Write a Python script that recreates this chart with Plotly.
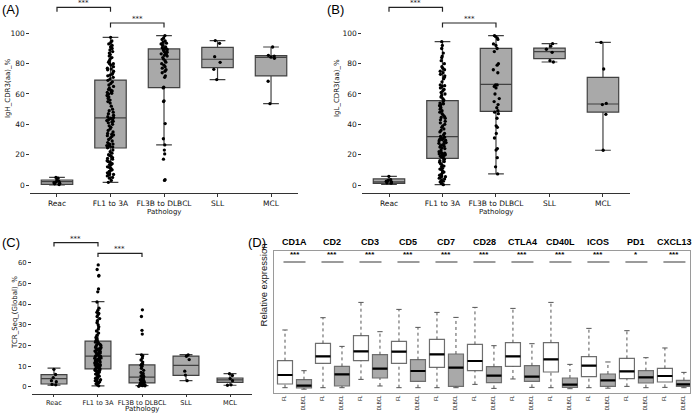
import plotly.graph_objects as go

##############################################################################
## data -- values

groups = ["Reac", "FL1 to 3A", "FL3B to DLBCL", "SLL", "MCL"]

## (A) IgH_CDR3(aa)_%  box stats
igh_q1 = [0.4, 24.4, 64.2, 77.4, 71.9]
igh_med = [2.2, 44.2, 82.9, 82.9, 84.2]
igh_q3 = [3.3, 69.2, 89.7, 90.8, 85.3]
igh_lo = [0.0, 1.8, 26.4, 69.5, 53.6]
igh_hi = [5.0, 97.4, 98.5, 95.2, 91.0]
## (A) individual samples
igh_reac = [0.3, 0.8, 1.2, 1.5, 2.0, 2.5, 3.5, 4.5, 5.0]
igh_fl = [1.8, 3, 4.5, 5, 6, 6.5, 7, 7.5, 8, 9, 9.5, 10, 11, 11.5, 12, 13, 13.5, 14, 15, 15.5,
          16, 17, 17.5, 18, 19, 19.5, 20, 21, 22, 23,
          24.5, 25, 25.5, 26, 26, 26.5, 27, 27, 28, 29, 30, 31, 32, 32.5, 33, 33.5, 34, 35, 36, 37,
          38, 39, 40, 41, 41.5, 42, 42.5, 43, 43, 43.5, 44,
          44.5, 45, 46, 47, 48, 49, 50, 52, 54, 55, 56, 57, 58, 58.5, 59, 60, 60.5, 61, 61.5, 62,
          62.5, 63, 64, 65, 66, 67, 68, 69,
          70, 71, 72, 72.5, 73, 74, 75, 76, 76.5, 77, 78, 79, 80, 80, 81, 82, 83, 84, 85, 86,
          87, 88, 89, 90, 91, 92, 93, 94, 95, 97.4]
igh_fl3b = [98.5, 97, 96, 95, 94, 93.5, 93, 92, 91, 90.5, 90, 89.5, 89, 88.5, 88, 87.5, 87, 86.5,
            86, 85.5, 85, 84, 83, 82, 81, 80, 79, 78, 77, 76, 75, 74, 72, 71, 64.5, 64, 55.5, 55,
            40.5, 30.5, 26.4, 23, 20.5, 17, 3.5, 3]
igh_sll = [95.2, 93.4, 84.6, 80.9, 76.3, 69.5]
igh_mcl = [91.0, 85.5, 85.0, 84.3, 83.5, 68.4, 53.6]

## (B) IgL_CDR3(aa)_%  box stats
igl_q1 = [1.1, 17.6, 48.6, 83.3, 48.1]
igl_med = [2.0, 31.9, 66.4, 87.9, 53.4]
igl_q3 = [4.0, 55.6, 90.1, 90.3, 71.0]
igl_lo = [0.4, 0.2, 7.3, 81.1, 22.9]
igl_hi = [5.7, 94.5, 98.5, 93.2, 94.0]
## (B) individual samples
igl_reac = [5.7, 3.5, 3.0, 2.5, 2.0, 1.5, 1.2]
igl_fl = [0.2, 1, 2, 2.5, 3, 4, 4.5, 5, 5.5, 6, 6.5, 7, 8, 8.5, 9, 10, 10.5, 11, 12, 12.5, 13, 14,
          15, 15.5, 16, 17,
          18, 18.5, 19, 19.5, 20, 20, 20.5, 21, 21, 21.5, 22, 23, 24, 24.5, 25, 25.5, 26, 26.5, 27,
          27.5, 28, 28.5, 29, 29.5, 30, 30, 30.5, 31, 31.5,
          32, 33, 34, 35, 36, 37, 38, 39, 40, 41, 42, 43, 44, 44.5, 45, 46, 47, 48, 49, 50, 51, 52,
          52.5, 53, 53.5, 54, 55,
          56, 57, 58, 59, 60, 61, 62, 63, 64, 65, 65.5, 66, 68, 70, 71, 72, 73, 74, 75, 76, 77, 78,
          80, 82, 84, 85, 87, 90, 92, 94.5]
igl_fl3b = [98.5, 98, 97, 96, 93, 92, 90, 88, 80, 79, 76, 74, 66, 66, 65, 64, 60, 57, 55, 53, 51,
            49, 48, 47, 44, 39, 38, 34, 31, 24, 23, 18, 12, 7.3]
igl_sll = [93.2, 91.5, 89.5, 87.5, 82.0, 81.1]
igl_mcl = [94.0, 76.5, 53.8, 53.0, 46.6, 22.9]

## (C) TCR_Seq_(Global)_%  box stats
tcr_q1 = [1.4, 8.7, 1.9, 5.6, 2.2]
tcr_med = [4.0, 14.9, 4.7, 10.4, 3.4]
tcr_q3 = [5.9, 22.1, 10.6, 14.9, 4.3]
tcr_lo = [0.8, 0.5, 0.6, 3.0, 0.8]
tcr_hi = [9.1, 41.2, 15.7, 15.6, 6.4]
## (C) individual samples
tcr_reac = [8.5, 6.0, 4.5, 3.0, 2.5, 1.2, 1.0]
tcr_fl = [0.5, 1, 1.5, 2, 2.2, 2.5, 3, 3.2, 3.5, 4, 4.2, 4.5, 5, 5.2, 5.5, 6, 6.2, 6.5, 7, 7.2,
          7.5, 7.8, 8, 8.2, 8.5, 8.8,
          9, 9.3, 9.6, 9.8, 10, 10.3, 10.6, 10.8, 11, 11.3, 11.6, 11.8, 12, 12.3, 12.6, 12.8, 13,
          13.3, 13.6, 13.8, 14, 14.2, 14.5, 14.8, 15,
          15.3, 15.6, 16, 16.3, 16.6, 16.8, 17, 17.3, 17.6, 17.8, 18, 18.3, 18.6, 19, 19.2, 19.5,
          20, 20.2, 20.5, 21, 21.3, 21.6, 22,
          22.5, 23, 23.5, 24, 25, 26, 27, 28, 29, 30, 31, 32, 33, 34, 35, 35.5, 36, 37, 38, 41,
          45.9, 47.3, 53.5, 53.8, 56.7, 58.9]
tcr_fl3b = [0.3, 0.5, 0.6, 0.8, 1, 1.1, 1.3, 1.5, 1.6, 1.8, 2, 2.1, 2.3, 2.5, 2.7, 3, 3.2, 3.5,
            3.8, 4, 4.3, 4.6, 5, 5.3, 5.6, 6, 6.5, 7, 8, 9, 10, 10.5, 11, 11, 12, 13, 14, 15,
            15.5, 25.5, 27.3, 34, 37.2]
tcr_sll = [15.5, 14.8, 13.2, 7.6, 5.7, 3.0]
tcr_mcl = [6.4, 5.5, 4.0, 3.0, 1.0, 0.8]

## (D) relative expression FL vs DLBCL (arbitrary units)
genes = ["CD1A", "CD2", "CD3", "CD5", "CD7", "CD28", "CTLA4", "CD40L", "ICOS", "PD1", "CXCL13"]
signif = ["***", "***", "***", "***", "***", "***", "***", "***", "***", "*", "***"]
fl_lo = [5, 5, 13.3, 5, 5, 8.3, 13.7, 5, 5, 6.3, 5.3]
fl_q1 = [8.7, 29.3, 32, 29.3, 25.3, 22, 26.3, 20.7, 16, 14, 10.7]
fl_med = [17.7, 36.3, 41.3, 41, 38.3, 31.7, 36.3, 33.3, 27, 21.3, 16.7]
fl_q3 = [32, 49.3, 57, 51.3, 53.3, 48.3, 50, 50, 36, 34.3, 24.3]
fl_hi = [62.7, 75, 90.3, 83.3, 80.3, 85.3, 84.3, 90.3, 64.3, 62, 44.7]
dl_lo = [3.5, 5, 6.7, 5, 5, 4.3, 5.3, 4, 4.5, 5, 5]
dl_q1 = [4.7, 6.7, 14.7, 11.3, 6.3, 10, 11.3, 5.3, 6.3, 9.7, 6.3]
dl_med = [7, 18.3, 24, 21.7, 25, 17, 16, 8, 12.3, 15.3, 8.3]
dl_q3 = [13, 26.3, 38, 33, 38.7, 26, 27, 14.7, 18.7, 22, 12.3]
dl_hi = [22, 46.3, 61, 65.3, 75.3, 47, 49, 28.3, 30.7, 35, 20.3]

##############################################################################
## styling

box_grey = "#a9a9a9"
edge = "#414141"
txt = "#111111"
tick_font = dict(family="DejaVu Sans", size=7.5, color=txt)
fig = go.Figure()


def add_panel(xa, ya, q1, med, q3, lo, hi, pts):
    ## boxes from the summary stats
    fig.add_trace(go.Box(x=groups, q1=q1, median=med, q3=q3, lowerfence=lo, upperfence=hi,
                         xaxis=xa, yaxis=ya, fillcolor=box_grey,
                         line=dict(color=edge, width=1.2), whiskerwidth=0.5,
                         boxpoints=False, hoverinfo="skip"))
    ## dots on top -- plotly jitter is density scaled, close to a swarm
    xs, ys = [], []
    for g, vals in zip(groups, pts):
        xs += [g] * len(vals)
        ys += vals
    fig.add_trace(go.Box(x=xs, y=ys, xaxis=xa, yaxis=ya, boxpoints="all", jitter=0.26,
                         pointpos=0, fillcolor="rgba(0,0,0,0)",
                         line=dict(width=0, color="rgba(0,0,0,0)"),
                         marker=dict(color="black", size=3.3)))


add_panel("x", "y", igh_q1, igh_med, igh_q3, igh_lo, igh_hi,
          [igh_reac, igh_fl, igh_fl3b, igh_sll, igh_mcl])
add_panel("x2", "y2", igl_q1, igl_med, igl_q3, igl_lo, igl_hi,
          [igl_reac, igl_fl, igl_fl3b, igl_sll, igl_mcl])
add_panel("x3", "y3", tcr_q1, tcr_med, tcr_q3, tcr_lo, tcr_hi,
          [tcr_reac, tcr_fl, tcr_fl3b, tcr_sll, tcr_mcl])

## panel D -- FL boxes at even slots, DLBCL at odd slots
fl_pos = [2 * i for i in range(len(genes))]
dl_pos = [2 * i + 1 for i in range(len(genes))]
bw = 0.79
for pos, lo, q1, med, q3, hi, fill in [(fl_pos, fl_lo, fl_q1, fl_med, fl_q3, fl_hi, "white"),
                                       (dl_pos, dl_lo, dl_q1, dl_med, dl_q3, dl_hi, box_grey)]:
    fig.add_trace(go.Box(x=pos, q1=q1, median=med, q3=q3, lowerfence=q1, upperfence=q3,
                         width=bw, xaxis="x4", yaxis="y4", fillcolor=fill,
                         line=dict(color="#6e6e6e", width=1.2), boxpoints=False,
                         hoverinfo="skip"))
    ## dotted whiskers, caps and the thick black median
    wx, wy, cx, cy, mx, my = [], [], [], [], [], []
    for p, a, b, c, d, e in zip(pos, lo, q1, med, q3, hi):
        wx += [p, p, None, p, p, None]
        wy += [a, b, None, d, e, None]
        cx += [p - 0.14, p + 0.14, None, p - 0.14, p + 0.14, None]
        cy += [a, a, None, e, e, None]
        mx += [p - bw / 2, p + bw / 2, None]
        my += [c, c, None]
    fig.add_trace(go.Scatter(x=wx, y=wy, mode="lines", xaxis="x4", yaxis="y4",
                             line=dict(color="#555555", width=1, dash="dot"), hoverinfo="skip"))
    fig.add_trace(go.Scatter(x=cx, y=cy, mode="lines", xaxis="x4", yaxis="y4",
                             line=dict(color="#555555", width=1), hoverinfo="skip"))
    fig.add_trace(go.Scatter(x=mx, y=my, mode="lines", xaxis="x4", yaxis="y4",
                             line=dict(color="black", width=2.2), hoverinfo="skip"))

##############################################################################
## axes  (automargin off so the hand set domains stay where they are)

cat_x = dict(type="category", range=[-0.5, 4.5], showline=True, linecolor="#333333",
             linewidth=1.2, ticks="outside", ticklen=2.5, tickcolor="#333333",
             tickfont=tick_font, showgrid=False, zeroline=False, automargin=False)
num_y = dict(showline=False, ticks="outside", ticklen=3, tickcolor="#333333",
             tickfont=tick_font, showgrid=False, zeroline=False, automargin=False)

fig.update_layout(
    xaxis=dict(cat_x, domain=[0.0432, 0.4254], anchor="y"),
    yaxis=dict(num_y, domain=[0.5327, 0.9395], range=[-5.27, 105.5], tickvals=[0, 20, 40, 60, 80, 100],
               anchor="x"),
    xaxis2=dict(cat_x, domain=[0.5175, 0.8996], anchor="y2"),
    yaxis2=dict(num_y, domain=[0.5327, 0.9395], range=[-5.27, 105.5], tickvals=[0, 20, 40, 60, 80, 100],
                anchor="x2"),
    xaxis3=dict(cat_x, domain=[0.0457, 0.36], anchor="y3", ticklen=2,
                tickfont=dict(tick_font, size=6.6)),
    yaxis3=dict(num_y, domain=[0.046, 0.3826], range=[-3.43, 63.7],
                tickvals=[0, 10, 20, 30, 40, 50, 60], anchor="x3", tickfont=dict(tick_font, size=6.8)),
    xaxis4=dict(domain=[0.3914, 0.9857], range=[-0.58, 21.32], anchor="y4",
                tickvals=fl_pos + dl_pos, ticktext=["FL"] * len(genes) + ["DLBCL"] * len(genes),
                tickangle=-90, tickfont=dict(family="Liberation Sans", size=4.5, color=txt),
                showline=True, mirror=True, linecolor="#9a9a9a", linewidth=1,
                showgrid=False, zeroline=False, ticks="", automargin=False),
    yaxis4=dict(domain=[0.0492, 0.393], range=[0, 142], anchor="x4", showticklabels=False,
                showline=True, mirror=True, linecolor="#9a9a9a", linewidth=1,
                showgrid=False, zeroline=False, ticks="", automargin=False),
)

##############################################################################
## text and significance brackets

ann = []
shapes = []

## panel letters
for lab, x, y in [("(A)", 0.0, 0.976), ("(B)", 0.464, 0.976), ("(C)", 0.0, 0.412), ("(D)", 0.352, 0.412)]:
    ann.append(dict(text=lab, x=x, y=y, xref="paper", yref="paper", xanchor="left", yanchor="middle",
                    showarrow=False, font=dict(family="Liberation Sans", size=13, color="black")))

## axis titles
for t, x, y, ang in [("IgH_CDR3(aa)_%", 0.0114, 0.787, -90), ("IgL_CDR3(aa)_%", 0.4814, 0.787, -90),
                     ("TCR_Seq_(Global)_%", 0.0214, 0.2446, -90), ("Pathology", 0.2343, 0.4855, 0),
                     ("Pathology", 0.7086, 0.4855, 0), ("Pathology", 0.2029, 0.0092, 0)]:
    ann.append(dict(text=t, x=x, y=y, xref="paper", yref="paper", textangle=ang, showarrow=False,
                    xanchor="center", yanchor="middle", font=dict(family="DejaVu Sans", size=7, color=txt)))
ann.append(dict(text="Relative expression", x=0.377, y=0.2058, xref="paper", yref="paper",
                textangle=-90, showarrow=False,
                font=dict(family="Liberation Sans", size=9.5, color=txt)))

## brackets for panels A-C: (x axis, y of first bracket, y of second bracket, leg length)
for xr, y1, y2, leg in [("x", 0.9823, 0.9443, 0.011), ("x2", 0.9823, 0.9443, 0.011),
                        ("x3", 0.4123, 0.3867, 0.009)]:
    for a, b, yy in [(0, 1, y1), (1, 2, y2)]:
        shapes.append(dict(type="path", xref=xr, yref="paper",
                           path=f"M {a},{yy - leg} L {a},{yy} L {b},{yy} L {b},{yy - leg}",
                           line=dict(color="#222222", width=1.2)))
        ann.append(dict(text="***", x=(a + b) / 2, y=yy, xref=xr, yref="paper", yanchor="bottom",
                        showarrow=False, yshift=-2, font=dict(family="DejaVu Sans", size=7, color=txt)))

## panel D gene names, stars and underline
for i, g in enumerate(genes):
    mid = (fl_pos[i] + dl_pos[i]) / 2
    ann.append(dict(text=f"<b>{g}</b>", x=mid, y=0.4148, xref="x4", yref="paper", showarrow=False,
                    yanchor="middle", font=dict(family="Liberation Sans", size=9, color="black")))
    ann.append(dict(text=f"<b>{signif[i]}</b>", x=mid, y=132, xref="x4", yref="y4", showarrow=False,
                    yanchor="bottom", font=dict(family="Liberation Sans", size=8, color="black")))
    shapes.append(dict(type="line", xref="x4", yref="y4", x0=mid - 0.58, x1=mid + 0.58, y0=130.7, y1=130.7,
                       line=dict(color="#7a7a7a", width=1.5)))

fig.update_layout(
    annotations=ann, shapes=shapes,
    width=700, height=413, margin=dict(l=0, r=0, t=0, b=0),
    boxmode="overlay", boxgap=0.16, showlegend=False,
    paper_bgcolor="white", plot_bgcolor="white",
)

## the page body has an 8px default margin, drop it so the figure fills the window
fig.write_html("out.html", config={"displayModeBar": False},
               post_script="document.body.style.margin='0';document.body.style.overflow='hidden';")
